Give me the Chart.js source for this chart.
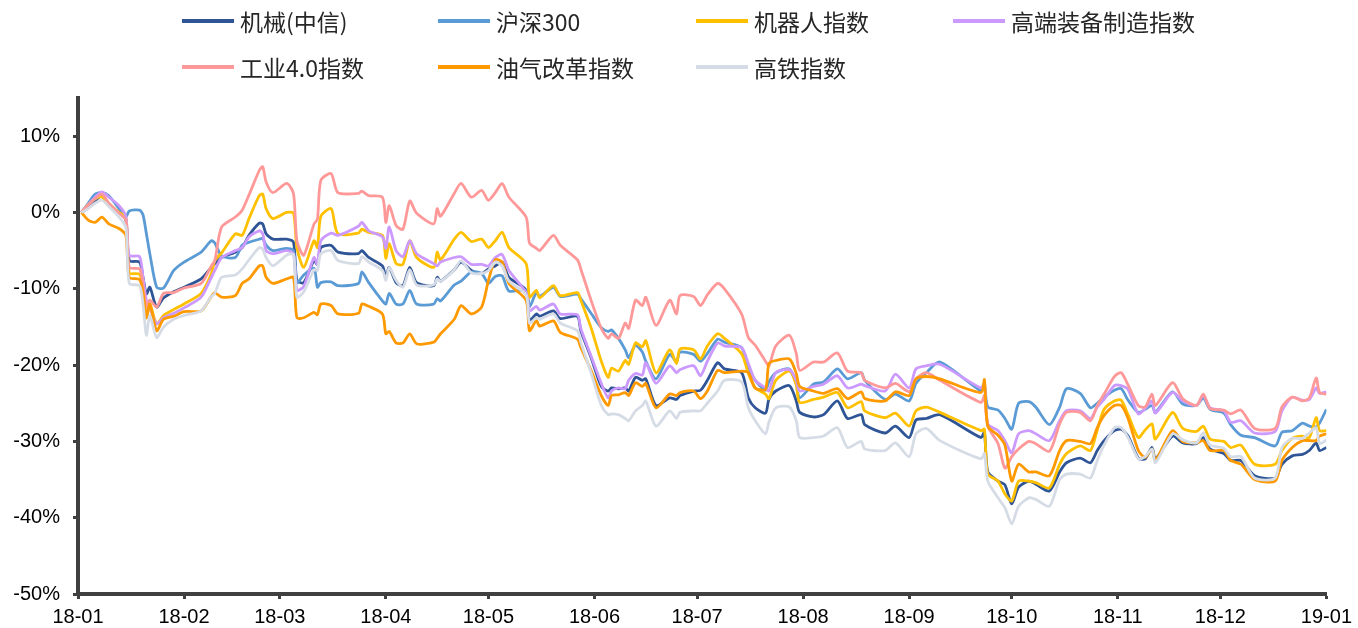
<!DOCTYPE html>
<html>
<head>
<meta charset="utf-8">
<script src="https://cdn.jsdelivr.net/npm/chart.js@4.4.1/dist/chart.umd.min.js"></script>
<style>
  html, body { margin: 0; padding: 0; background: #fff; }
  #wrap { position: relative; width: 1358px; height: 628px; }
  #legend { position: absolute; left: 0; top: 0; width: 1358px; height: 90px; }
  .item { position: absolute; height: 30px; display: flex; align-items: center;
          font-family: "Noto Sans CJK SC", "Noto Sans", sans-serif; font-size: 23px; color: #262626; white-space: nowrap; }
  .item .sw { width: 52px; height: 4px; margin-right: 6px; }
</style>
</head>
<body>
<div id="wrap">
  <canvas id="chart" width="1358" height="628"></canvas>
  <div id="legend"></div>
</div>
<script>
// x: days since 2018-01-01
var days = [1,3,5,7,9,12,14,15,18,19,20,21,23,25,28,31,36,39,40,42,
  46,48,50,53,54,55,57,61,63,64,66,69,70,71,74,76,82,83,85,89,
  90,91,93,95,97,99,104,105,106,110,112,115,118,120,122,124,126,131,132,134,
  135,139,141,146,147,150,153,155,156,158,160,161,163,165,166,169,173,175,176,180,
  182,184,187,189,194,196,198,201,202,204,208,210,211,215,218,222,225,229,230,236,
  239,243,245,248,252,264,265,266,269,271,273,275,278,280,284,287,289,293,296,298,
  300,303,305,307,310,312,314,315,320,323,327,329,331,335,337,340,344,350,352,355,
  358,360,362,363,365];

var jixie = [0,0.6,1.5,2.2,0.9,0.0,-1.0,-6.3,-6.5,-8.5,
  -10.7,-9.8,-12.4,-11.2,-10.4,-9.8,-8.7,-7.2,-6.7,-5.9,
  -5.2,-4.6,-3.0,-1.4,-1.5,-2.8,-3.5,-3.5,-3.9,-8.9,
  -9.2,-6.3,-6.8,-4.6,-4.3,-5.2,-5.4,-5.0,-5.9,-7.0,
  -8.5,-7.2,-9.2,-9.6,-7.2,-9.2,-9.6,-8.5,-9.0,-7.5,
  -6.5,-7.6,-8.0,-7.4,-7.0,-6.5,-8.5,-10.2,-14.2,-13.3,
  -13.6,-12.9,-13.9,-13.6,-15.5,-19.0,-22.8,-23.4,-23.0,-23.1,
  -23.0,-23.4,-21.6,-22.0,-21.8,-25.3,-24.3,-24.5,-24.0,-23.4,
  -23.3,-22.0,-19.7,-20.5,-21.0,-24.3,-25.6,-26.3,-24.5,-23.4,
  -22.7,-24.7,-26.2,-26.8,-26.5,-24.7,-27.0,-26.5,-27.8,-28.9,
  -28.0,-29.5,-27.2,-27.0,-26.5,-29.5,-28.8,-34.0,-35.2,-35.7,
  -38.2,-36.0,-35.2,-35.6,-36.5,-34.0,-32.8,-32.2,-32.8,-31.2,
  -29.9,-28.6,-28.4,-29.3,-32.2,-32.3,-30.8,-32.3,-29.3,-30.2,
  -30.3,-29.5,-31.0,-31.6,-32.5,-32.5,-34.5,-34.8,-33.0,-31.9,
  -31.7,-31.2,-30.2,-31.2,-30.8];

var hs300 = [0,1.2,2.4,2.6,2.2,0.5,-0.6,0.2,0.3,-0.3,
  -2.8,-5.4,-9.8,-9.9,-7.6,-6.5,-5.2,-3.7,-4.0,-5.7,
  -5.9,-4.3,-3.9,-3.5,-3.4,-4.3,-5.0,-4.7,-5.0,-9.2,
  -8.2,-7.3,-9.8,-9.2,-9.1,-9.6,-9.3,-7.8,-9.2,-11.6,
  -12.0,-10.6,-12.0,-12.0,-10.2,-12.0,-12.0,-11.3,-11.6,-9.5,
  -9.0,-7.8,-8.0,-9.3,-8.4,-8.3,-10.3,-10.2,-12.4,-10.5,
  -11.0,-9.8,-11.0,-10.7,-11.3,-13.2,-15.1,-15.6,-15.4,-16.5,
  -18.0,-19.0,-17.4,-18.3,-19.5,-21.8,-18.6,-19.6,-18.3,-18.6,
  -19.5,-18.5,-16.6,-17.0,-17.7,-20.3,-22.0,-23.3,-22.2,-21.0,
  -20.5,-22.5,-24.3,-22.5,-22.2,-20.5,-21.8,-21.0,-22.0,-24.5,
  -23.8,-24.7,-22.4,-21.0,-19.6,-23.4,-22.7,-25.5,-25.9,-27.0,
  -28.4,-25.0,-24.8,-25.5,-27.8,-25.5,-23.1,-23.7,-25.6,-25.0,
  -24.2,-23.3,-23.1,-24.6,-26.2,-25.8,-25.3,-26.2,-23.5,-25.1,
  -25.3,-24.3,-25.8,-26.3,-27.8,-29.2,-29.5,-30.6,-28.8,-28.6,
  -27.6,-28.0,-28.1,-27.6,-25.8];

var robot = [0,1.0,1.8,2.0,1.2,0.0,-0.6,-7.9,-8.1,-10.0,
  -13.8,-12.0,-14.6,-13.5,-12.7,-12.0,-10.6,-8.0,-6.3,-5.3,
  -2.8,-3.0,-0.8,2.2,2.4,0.5,-0.8,0.0,-0.1,-4.6,
  -7.2,-3.7,-4.6,-0.5,0.5,-2.8,-2.7,-2.2,-2.6,-3.0,
  -6.0,-4.1,-6.7,-6.8,-3.7,-5.9,-7.2,-5.2,-6.2,-3.5,
  -2.6,-3.8,-3.5,-4.6,-3.7,-2.6,-4.6,-6.7,-11.1,-10.2,
  -11.2,-9.6,-10.9,-10.5,-11.5,-15.1,-19.5,-21.6,-20.4,-20.8,
  -19.4,-19.9,-17.1,-17.6,-16.8,-21.0,-18.0,-19.8,-17.9,-18.0,
  -19.2,-17.5,-15.9,-16.5,-18.5,-21.1,-23.0,-23.8,-24.4,-22.0,
  -20.8,-22.6,-24.9,-24.5,-24.2,-23.6,-25.6,-24.8,-26.0,-26.9,
  -26.3,-28.0,-26.0,-25.5,-26.2,-28.6,-28.4,-34.3,-35.2,-36.9,
  -37.8,-35.2,-35.2,-35.4,-36.1,-33.0,-31.6,-30.6,-31.2,-28.5,
  -25.8,-24.7,-24.6,-26.5,-29.5,-28.5,-27.7,-29.7,-26.2,-28.3,
  -28.7,-28.0,-29.7,-30.0,-30.8,-30.5,-33.0,-33.0,-31.2,-29.6,
  -29.3,-29.5,-26.9,-28.6,-28.6];

var gaoduan = [0,1.0,2.0,2.7,2.0,0.9,-0.5,-5.6,-5.8,-8.5,
  -11.5,-12.5,-14.6,-13.8,-13.2,-12.5,-11.1,-8.5,-7.6,-5.9,
  -5.0,-4.6,-3.2,-2.4,-2.8,-5.0,-5.4,-5.0,-5.4,-10.2,
  -9.7,-5.9,-6.8,-3.7,-2.7,-3.0,-1.8,-1.3,-2.4,-3.2,
  -4.7,-1.9,-5.0,-5.8,-3.7,-5.4,-6.7,-7.0,-6.5,-5.9,
  -5.8,-6.8,-6.8,-7.0,-5.9,-5.5,-7.6,-10.5,-12.9,-12.3,
  -12.8,-12.0,-13.3,-13.4,-15.2,-18.8,-22.4,-24.3,-23.4,-23.0,
  -23.1,-22.0,-21.1,-21.3,-19.7,-22.4,-20.1,-21.0,-20.6,-20.1,
  -21.4,-19.5,-17.1,-17.5,-17.7,-19.8,-22.0,-23.0,-23.4,-21.0,
  -20.6,-22.0,-23.4,-22.8,-22.5,-21.4,-23.0,-22.5,-22.7,-23.4,
  -21.2,-23.0,-20.5,-20.1,-19.9,-23.0,-22.4,-27.7,-28.6,-29.9,
  -31.5,-29.0,-28.6,-29.0,-29.9,-27.3,-26.0,-26.0,-27.0,-25.5,
  -24.5,-22.7,-22.7,-23.2,-26.4,-25.7,-24.7,-26.3,-23.6,-24.7,
  -25.3,-24.0,-25.6,-26.0,-27.5,-27.3,-28.9,-28.7,-26.0,-24.2,
  -24.6,-24.5,-23.0,-23.7,-23.5];

var gongye = [0,1.0,1.8,2.4,1.2,-0.1,-1.0,-7.2,-7.4,-9.5,
  -12.4,-11.5,-12.4,-10.6,-10.5,-9.9,-9.3,-7.0,-6.3,-1.9,
  -0.6,0.3,2.3,5.5,6.0,4.0,2.6,3.8,2.5,-3.7,
  -5.6,-1.5,-0.9,4.2,5.1,2.6,2.5,2.8,2.2,2.0,
  -1.3,0.9,-1.7,-2.2,1.5,-0.1,-1.5,0.5,-0.5,2.5,
  3.8,2.0,2.9,1.6,2.6,3.8,2.0,-0.6,-4.0,-4.7,
  -5.0,-3.0,-4.3,-6.2,-7.4,-11.5,-15.2,-16.5,-15.9,-16.5,
  -14.5,-15.2,-11.5,-12.2,-11.1,-14.8,-11.5,-13.3,-10.9,-11.0,
  -12.2,-10.8,-9.3,-10.0,-13.3,-16.4,-17.4,-19.5,-20.1,-17.5,
  -16.1,-18.5,-20.7,-19.6,-19.6,-18.4,-20.8,-21.0,-22.0,-23.0,
  -22.4,-23.5,-21.8,-21.0,-22.0,-24.9,-24.0,-28.0,-30.3,-33.5,
  -32.0,-31.0,-30.0,-30.3,-31.3,-27.7,-26.2,-26.2,-27.3,-25.3,
  -23.8,-21.5,-21.0,-22.6,-25.3,-25.5,-23.8,-25.3,-22.3,-24.4,
  -25.3,-23.8,-25.7,-25.9,-26.4,-25.9,-28.3,-28.3,-25.5,-24.2,
  -24.7,-24.3,-21.7,-23.6,-23.8];

var youqi = [0,-1.0,-1.3,-0.6,-1.5,-2.1,-3.0,-8.5,-8.8,-10.5,
  -13.8,-12.0,-15.5,-14.0,-13.6,-13.0,-12.9,-11.0,-10.5,-11.1,
  -10.9,-9.3,-8.7,-7.0,-7.0,-8.5,-9.3,-8.7,-8.5,-13.8,
  -13.8,-13.1,-13.4,-12.0,-12.2,-13.3,-13.2,-12.0,-12.3,-13.3,
  -15.9,-15.6,-17.1,-17.1,-15.9,-17.2,-17.0,-16.5,-15.9,-14.0,
  -12.2,-13.3,-12.4,-8.9,-6.2,-6.5,-9.3,-11.5,-15.5,-14.2,
  -14.9,-14.2,-15.7,-16.6,-17.7,-20.7,-24.0,-25.3,-24.0,-23.9,
  -23.6,-24.0,-22.3,-22.8,-22.4,-25.6,-23.8,-24.0,-23.6,-23.4,
  -24.4,-23.4,-20.7,-21.0,-20.8,-21.0,-23.0,-23.2,-19.8,-19.4,
  -19.2,-21.1,-22.8,-23.4,-23.7,-23.1,-24.4,-23.5,-24.4,-24.7,
  -23.5,-24.0,-21.8,-21.5,-21.8,-23.6,-21.9,-28.0,-29.2,-30.5,
  -35.2,-33.0,-34.0,-34.0,-34.5,-31.2,-29.9,-30.0,-30.3,-28.2,
  -26.6,-25.3,-25.3,-27.0,-31.2,-32.1,-31.0,-32.5,-28.6,-30.0,
  -30.2,-29.9,-31.2,-31.2,-32.5,-33.0,-35.0,-35.2,-32.5,-30.8,
  -29.9,-29.9,-29.9,-29.3,-29.0];

var gaotie = [0,0.5,1.2,1.6,0.8,-0.6,-2.0,-9.3,-9.6,-12.0,
  -16.1,-13.5,-16.4,-15.0,-14.0,-13.5,-12.9,-11.0,-10.6,-8.5,
  -8.2,-7.4,-6.2,-4.6,-4.8,-5.9,-7.0,-5.6,-5.5,-11.1,
  -10.4,-7.5,-7.6,-5.4,-5.0,-6.3,-6.7,-5.8,-6.5,-7.6,
  -8.9,-7.2,-8.9,-9.8,-7.5,-9.5,-9.5,-8.7,-9.0,-7.5,
  -6.3,-7.9,-8.0,-7.6,-6.5,-7.0,-9.0,-10.8,-14.5,-13.8,
  -14.0,-13.3,-14.5,-15.5,-17.0,-21.0,-25.3,-26.5,-26.4,-26.5,
  -27.0,-27.3,-26.0,-25.3,-24.7,-28.0,-26.0,-27.0,-26.2,-26.0,
  -26.0,-25.0,-23.4,-22.0,-22.2,-25.6,-27.3,-29.0,-27.5,-25.6,
  -25.5,-27.3,-29.5,-29.5,-29.3,-28.2,-30.8,-30.0,-31.0,-31.2,
  -30.2,-32.0,-29.0,-28.3,-29.9,-32.3,-31.6,-35.2,-37.4,-38.7,
  -40.8,-38.5,-37.4,-37.6,-38.5,-35.0,-34.3,-34.3,-34.8,-32.5,
  -30.5,-28.2,-28.2,-29.5,-32.3,-32.0,-31.0,-32.8,-29.0,-29.8,
  -30.2,-28.9,-30.5,-30.9,-32.0,-32.0,-34.8,-34.8,-30.8,-29.6,
  -29.6,-28.9,-28.2,-30.3,-29.8];

var monthDays = [0,31,59,90,120,151,181,212,243,273,304,334,365];
var monthLabels = ['18-01','18-02','18-03','18-04','18-05','18-06','18-07','18-08','18-09','18-10','18-11','18-12','19-01'];
var yTicks = [-50,-40,-30,-20,-10,0,10];

var names = ['机械(中信)','沪深300','机器人指数','高端装备制造指数','工业4.0指数','油气改革指数','高铁指数'];
var colors = ['#2F5597','#5B9BD5','#FFC000','#CC99FF','#FF9999','#FF9900','#D6DCE5'];
var seriesList = [jixie, hs300, robot, gaoduan, gongye, youqi, gaotie];

function toPoints(vals) {
  return vals.map(function (v, i) { return { x: days[i], y: v }; });
}

var datasets = seriesList.map(function (s, i) {
  return {
    label: names[i],
    data: toPoints(s),
    borderColor: colors[i],
    backgroundColor: colors[i],
    borderWidth: 2.8,
    pointRadius: 0,
    tension: 0.25,
    fill: false,
    order: seriesList.length - i
  };
});

// legend, laid out in a grid like the original
var legendPos = [[182,6],[438,6],[696,6],[953,6],[182,52],[438,52],[696,52]];
var legend = document.getElementById('legend');
names.forEach(function (n, i) {
  var d = document.createElement('div');
  d.className = 'item';
  d.style.left = legendPos[i][0] + 'px';
  d.style.top = legendPos[i][1] + 'px';
  d.innerHTML = '<span class="sw" style="background:' + colors[i] + '"></span>' + n;
  legend.appendChild(d);
});

var axisColor = '#404040';
var tickFont = { family: 'Liberation Sans, Arial, sans-serif', size: 20 };

new Chart(document.getElementById('chart'), {
  type: 'line',
  data: { datasets: datasets },
  options: {
    responsive: false,
    animation: false,
    devicePixelRatio: 1,
    layout: { padding: { top: 98, right: 28, left: 0, bottom: 0 } },
    plugins: {
      legend: { display: false },
      tooltip: { enabled: false }
    },
    scales: {
      x: {
        type: 'linear',
        min: 0,
        max: 365,
        afterBuildTicks: function (scale) {
          scale.ticks = monthDays.map(function (v) { return { value: v }; });
        },
        afterFit: function (scale) { scale.height = 34; },
        grid: {
          display: true,
          drawOnChartArea: false,
          drawTicks: true,
          tickLength: 5,
          tickWidth: 3,
          tickColor: axisColor
        },
        border: { display: true, color: axisColor, width: 4 },
        ticks: {
          autoSkip: false,
          maxRotation: 0,
          padding: 6,
          color: '#000',
          font: tickFont,
          callback: function (v) { return monthLabels[monthDays.indexOf(v)]; }
        }
      },
      y: {
        min: -50,
        max: 15,
        afterBuildTicks: function (scale) {
          scale.ticks = yTicks.map(function (v) { return { value: v }; });
        },
        afterFit: function (scale) { scale.width = 78; },
        grid: {
          display: true,
          drawOnChartArea: false,
          drawTicks: true,
          tickLength: 5,
          tickWidth: 3,
          tickColor: axisColor
        },
        border: { display: true, color: axisColor, width: 4 },
        ticks: {
          padding: 13,
          color: '#000',
          font: tickFont,
          callback: function (v) { return v + '%'; }
        }
      }
    }
  }
});
</script>
</body>
</html>
